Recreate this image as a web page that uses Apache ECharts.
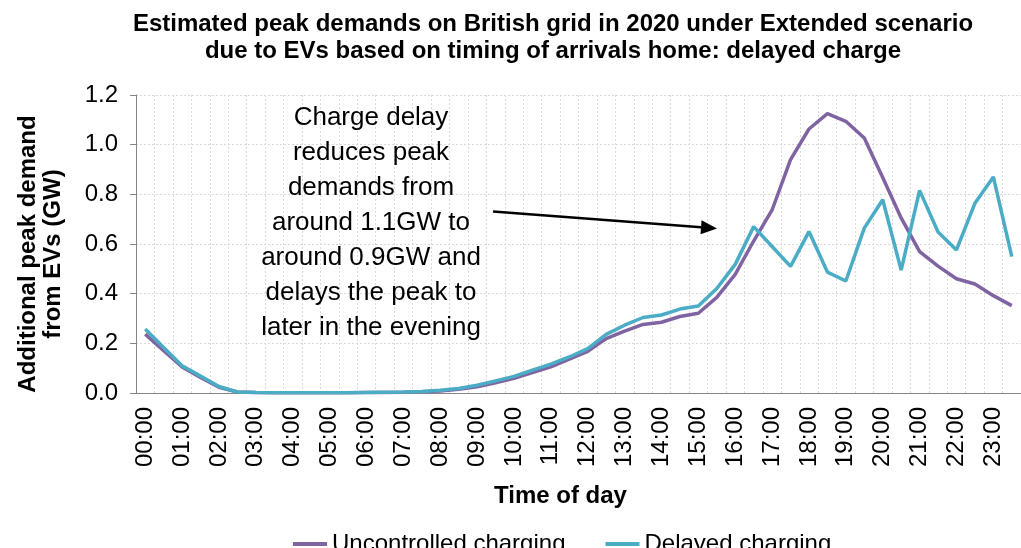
<!DOCTYPE html>
<html>
<head>
<meta charset="utf-8">
<title>EV peak demand - delayed charge</title>
<script src="https://cdn.jsdelivr.net/npm/echarts@6/dist/echarts.min.js"></script>
<style>
  html, body { margin: 0; padding: 0; background: #fff; }
  #main { width: 1021px; height: 548px; }
</style>
</head>
<body>
<div id="main"></div>
<script>
// half-hourly time slots
var times = ['00:00', '00:30', '01:00', '01:30', '02:00', '02:30', '03:00', '03:30',
  '04:00', '04:30', '05:00', '05:30', '06:00', '06:30', '07:00', '07:30',
  '08:00', '08:30', '09:00', '09:30', '10:00', '10:30', '11:00', '11:30',
  '12:00', '12:30', '13:00', '13:30', '14:00', '14:30', '15:00', '15:30',
  '16:00', '16:30', '17:00', '17:30', '18:00', '18:30', '19:00', '19:30',
  '20:00', '20:30', '21:00', '21:30', '22:00', '22:30', '23:00', '23:30'];

// additional peak demand (GW)
var uncontrolled = [0.237, 0.170, 0.105, 0.063, 0.023, 0.004, 0.002, 0.001,
  0.001, 0.001, 0.001, 0.001, 0.002, 0.002, 0.003, 0.005,
  0.008, 0.015, 0.025, 0.041, 0.059, 0.082, 0.105, 0.136,
  0.168, 0.219, 0.249, 0.276, 0.285, 0.308, 0.321, 0.385,
  0.478, 0.612, 0.737, 0.940, 1.063, 1.125, 1.094, 1.027,
  0.868, 0.705, 0.569, 0.511, 0.460, 0.439, 0.392, 0.352];

var delayed = [0.258, 0.183, 0.110, 0.068, 0.026, 0.004, 0.002, 0.001,
  0.001, 0.001, 0.001, 0.001, 0.002, 0.003, 0.004, 0.006,
  0.011, 0.018, 0.031, 0.049, 0.067, 0.092, 0.116, 0.145,
  0.179, 0.236, 0.273, 0.304, 0.314, 0.338, 0.350, 0.421,
  0.518, 0.670, 0.590, 0.510, 0.650, 0.487, 0.451, 0.664,
  0.778, 0.495, 0.816, 0.648, 0.576, 0.764, 0.870, 0.549];

var noteLines = ['Charge delay', 'reduces peak', 'demands from', 'around 1.1GW to',
  'around 0.9GW and', 'delays the peak to', 'later in the evening'];

var FONT = '"Liberation Sans", Arial, Helvetica, sans-serif';

// arrow of the annotation
var arrowFrom = [493, 211.5];
var arrowTo = [717, 228.5];
var dx = arrowTo[0] - arrowFrom[0], dy = arrowTo[1] - arrowFrom[1];
var len = Math.sqrt(dx * dx + dy * dy);
var ux = dx / len, uy = dy / len;
var headLen = 16, headHalf = 7;
var bx = arrowTo[0] - ux * headLen, by = arrowTo[1] - uy * headLen;

var myChart = echarts.init(document.getElementById('main'));

option = {
  backgroundColor: '#fff',
  animation: false,
  textStyle: { fontFamily: FONT, color: '#000' },
  title: {
    text: 'Estimated peak demands on British grid in 2020 under Extended scenario\ndue to EVs based on timing of arrivals home: delayed charge',
    left: 548,
    top: 6,
    textAlign: 'center',
    textStyle: {
      fontFamily: FONT,
      fontSize: 24,
      fontWeight: 'bold',
      lineHeight: 27,
      color: '#000'
    }
  },
  legend: {
    left: 288,
    top: 527,
    icon: 'rect',
    itemWidth: 34,
    itemHeight: 4,
    itemGap: 40,
    textStyle: { fontFamily: FONT, fontSize: 24, color: '#000' },
    data: ['Uncontrolled charging', 'Delayed charging']
  },
  grid: {
    left: 136,
    right: -1,
    top: 95,
    bottom: 155
  },
  xAxis: {
    type: 'category',
    data: times,
    boundaryGap: true,
    name: 'Time of day',
    nameLocation: 'middle',
    nameGap: 91,
    nameTextStyle: {
      fontFamily: FONT,
      fontSize: 24,
      fontWeight: 'bold',
      color: '#000',
      padding: [0, 36, 0, 0]
    },
    axisLine: { lineStyle: { color: '#868686', width: 1 } },
    axisTick: { interval: 0, length: 6, lineStyle: { color: '#868686' } },
    axisLabel: {
      interval: 1,
      rotate: 90,
      margin: 14,
      fontFamily: FONT,
      fontSize: 24,
      color: '#000'
    },
    splitLine: {
      show: true,
      interval: 0,
      lineStyle: { color: '#d9d9d9', type: [2, 2], width: 1 }
    }
  },
  yAxis: {
    type: 'value',
    min: 0,
    max: 1.2,
    interval: 0.2,
    name: 'Additional peak demand\nfrom EVs (GW)',
    nameLocation: 'middle',
    nameRotate: 90,
    nameGap: 70,
    nameTextStyle: {
      fontFamily: FONT,
      fontSize: 24,
      fontWeight: 'bold',
      lineHeight: 25,
      color: '#000',
      padding: [0, 20, 0, 0]
    },
    axisLine: { show: true, lineStyle: { color: '#868686', width: 1 } },
    axisTick: { show: true, length: 6, lineStyle: { color: '#868686' } },
    axisLabel: {
      margin: 18,
      fontFamily: FONT,
      fontSize: 24,
      color: '#000',
      formatter: function (v) { return v.toFixed(1); }
    },
    splitLine: {
      lineStyle: { color: '#d9d9d9', type: [2, 2], width: 1 }
    }
  },
  series: [
    {
      name: 'Uncontrolled charging',
      type: 'line',
      data: uncontrolled,
      color: '#8064A2',
      symbol: 'none',
      lineStyle: { width: 3.5, color: '#8064A2' },
      z: 2
    },
    {
      name: 'Delayed charging',
      type: 'line',
      data: delayed,
      color: '#4BACC6',
      symbol: 'none',
      lineStyle: { width: 3.5, color: '#4BACC6' },
      z: 3
    }
  ],
  graphic: [
    {
      type: 'text',
      x: 371,
      y: 100,
      z: 10,
      style: {
        text: noteLines.join('\n'),
        font: '26px ' + FONT,
        fill: '#000',
        textAlign: 'center',
        textVerticalAlign: 'top',
        lineHeight: 35
      }
    },
    {
      type: 'line',
      z: 10,
      shape: { x1: arrowFrom[0], y1: arrowFrom[1], x2: bx, y2: by },
      style: { stroke: '#000', lineWidth: 2.5 }
    },
    {
      type: 'polygon',
      z: 10,
      shape: {
        points: [
          [arrowTo[0], arrowTo[1]],
          [bx - uy * headHalf, by + ux * headHalf],
          [bx + uy * headHalf, by - ux * headHalf]
        ]
      },
      style: { fill: '#000' }
    }
  ]
};

myChart.setOption(option);
</script>
</body>
</html>
